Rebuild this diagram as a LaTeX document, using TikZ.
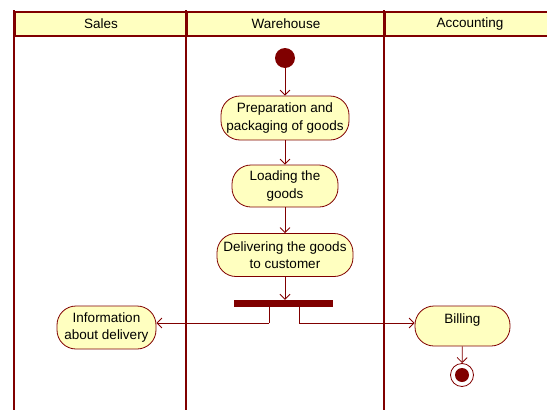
\documentclass[tikz,border=0pt]{standalone}
\usepackage{fontspec}
\setmainfont{Liberation Sans}
\usetikzlibrary{arrows.meta}
\definecolor{umlred}{HTML}{800000}
\definecolor{umlfill}{HTML}{FFFFC0}
\tikzset{
  lane/.style={draw=umlred, line width=2.4pt},
  header/.style={draw=umlred, line width=2pt, fill=umlfill, minimum height=24pt, inner sep=0pt, font=\fontsize{13.5}{14}\selectfont, anchor=north west},
  action/.style={draw=umlred, line width=0.8pt, fill=umlfill, rounded corners=19pt, align=center, inner sep=0pt, font=\fontsize{13.5}{17.5}\selectfont},
  flow/.style={draw=umlred, line width=0.8pt, -{Straight Barb[length=5pt,width=10pt]}},
  seg/.style={draw=umlred, line width=0.8pt},
}
\begin{document}
\begin{tikzpicture}[x=1pt,y=-1pt]
\useasboundingbox (0,0) rectangle (547,410);
% swimlane headers
\node[header, minimum width=172pt] (hsales) at (14,11) {Sales};
\node[header, minimum width=198pt] (hware) at (186,11) {Warehouse};
\node[header, minimum width=170pt] (hacct) at (384,11) {Accounting};
% swimlane borders
\draw[umlred, line width=2pt] (14,10) -- (14,410);
\draw[lane] (186,10) -- (186,410);
\draw[lane] (384,10) -- (384,410);
% initial node
\node[circle, fill=umlred, minimum size=20pt, inner sep=0pt] (start) at (285,58) {};
% actions
\node[action, minimum width=128pt, minimum height=44pt] (prep) at (285,118) {Preparation and\\packaging of goods};
\node[action, minimum width=106pt, minimum height=42pt] (load) at (285,186) {Loading the\\goods};
\node[action, minimum width=136pt, minimum height=43pt] (deliv) at (285,255) {Delivering the goods\\to customer};
% fork bar
\node[fill=umlred, minimum width=99pt, minimum height=7pt, inner sep=0pt] (fork) at (283,303.5) {};
\node[action, minimum width=99pt, minimum height=43pt] (info) at (106.5,327.5) {Information\\about delivery};
\node[action, minimum width=95pt, minimum height=40pt, text depth=14pt] (bill) at (462.5,326) {Billing};
% final node
\node[circle, draw=umlred, line width=0.8pt, fill=white, minimum size=23pt, inner sep=0pt] (final) at (462,375) {};
\node[circle, fill=umlred, minimum size=14pt, inner sep=0pt] (finaldot) at (final.center) {};
% control flows
\draw[flow] (start) -- (prep);
\draw[flow] (prep) -- (load);
\draw[flow] (load) -- (deliv);
\draw[flow] (deliv.south -| {(285,0)}) -- (fork.north -| {(285,0)});
\coordinate (forkL) at ([xshift=-14pt]fork.south);
\coordinate (forkR) at ([xshift=16pt]fork.south);
\coordinate (turnL) at (forkL |- {(0,323)});
\coordinate (turnR) at (forkR |- {(0,323)});
\draw[seg] (forkL) -- (turnL);
\draw[flow] (turnL) -- (turnL -| info.east);
\draw[seg] (forkR) -- (turnR);
\draw[flow] (turnR) -- (turnR -| bill.west);
\draw[flow] (bill) -- (final);
\end{tikzpicture}
\end{document}
